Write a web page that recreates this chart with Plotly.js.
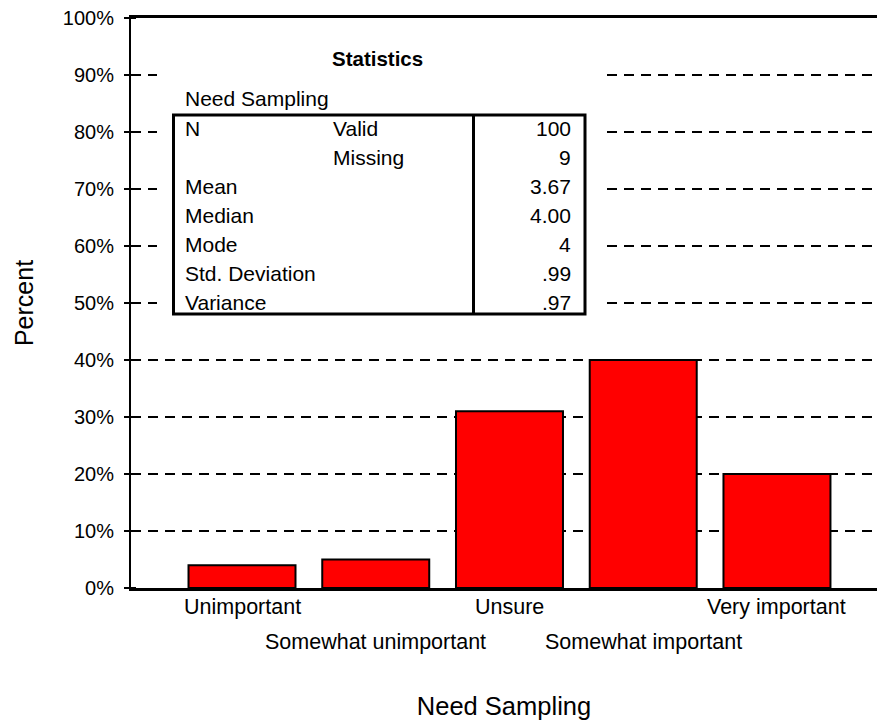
<!DOCTYPE html>
<html>
<head>
<meta charset="utf-8">
<script src="https://cdn.plot.ly/plotly-3.0.1.min.js"></script>
<style>
  html, body { margin: 0; padding: 0; background: #fff; }
  #chart { width: 877px; height: 727px; }
</style>
</head>
<body>
<div id="chart"></div>
<script>
// ---------------- data ----------------
const categories = ["Unimportant", "Somewhat unimportant", "Unsure", "Somewhat important", "Very important"];
const percents = [4, 5, 31, 40, 20];
const yTickVals = [0, 10, 20, 30, 40, 50, 60, 70, 80, 90, 100];
const yTickText = ["0%", "10%", "20%", "30%", "40%", "50%", "60%", "70%", "80%", "90%", "100%"];
const xTitle = "Need Sampling";
const yTitle = "Percent";
const statTitle = "Statistics";
const statVariable = "Need Sampling";
const statRowLabels = ["N", "", "Mean", "Median", "Mode", "Std. Deviation", "Variance"];
const statSubLabels = ["Valid", "Missing", "", "", "", "", ""];
const statValues = ["100", "9", "3.67", "4.00", "4", ".99", ".97"];

// ---------------- layout helpers (pixel -> paper) ----------------
const W = 877, H = 727;
const M = { l: 131, r: 0, t: 18, b: 139 };
const PW = W - M.l - M.r, PH = H - M.t - M.b;
const px = x => (x - M.l) / PW;
const py = y => (H - M.b - y) / PH;

const FONT = '"Liberation Sans", Arial, sans-serif';

const annotations = [];
// x category labels, staggered in two rows
categories.forEach((c, i) => {
  annotations.push({
    x: i, xref: 'x', y: 0, yref: 'paper',
    yanchor: 'middle', xanchor: 'center',
    yshift: i % 2 === 0 ? -19 : -54,
    text: c, showarrow: false,
    font: { family: FONT, size: 21.5, color: '#000' }
  });
});

// statistics table text
annotations.push({
  x: px(377), y: py(58), xref: 'paper', yref: 'paper',
  xanchor: 'center', yanchor: 'middle', showarrow: false,
  text: '<b>' + statTitle + '</b>',
  font: { family: FONT, size: 20.5, color: '#000' }
});
annotations.push({
  x: px(183), y: py(98), xref: 'paper', yref: 'paper',
  xanchor: 'left', yanchor: 'middle', showarrow: false,
  text: statVariable,
  font: { family: FONT, size: 21, color: '#000' }
});
const rowY = i => 128.3 + i * 29.05;
statRowLabels.forEach((t, i) => {
  if (t) annotations.push({
    x: px(183), y: py(rowY(i)), xref: 'paper', yref: 'paper',
    xanchor: 'left', yanchor: 'middle', showarrow: false,
    text: t, font: { family: FONT, size: 21, color: '#000' }
  });
});
statSubLabels.forEach((t, i) => {
  if (t) annotations.push({
    x: px(331), y: py(rowY(i)), xref: 'paper', yref: 'paper',
    xanchor: 'left', yanchor: 'middle', showarrow: false,
    text: t, font: { family: FONT, size: 21, color: '#000' }
  });
});
statValues.forEach((t, i) => {
  annotations.push({
    x: px(573), y: py(rowY(i)), xref: 'paper', yref: 'paper',
    xanchor: 'right', yanchor: 'middle', showarrow: false,
    text: t, font: { family: FONT, size: 21, color: '#000' }
  });
});

const shapes = [
  // white backing that hides gridlines behind the table
  { type: 'rect', xref: 'paper', yref: 'paper', layer: 'above',
    x0: px(157), x1: px(600), y0: py(318), y1: py(32),
    fillcolor: '#fff', line: { width: 0 } },
  // table frame
  { type: 'rect', xref: 'paper', yref: 'paper', layer: 'above',
    x0: px(173.5), x1: px(585), y0: py(314), y1: py(115),
    fillcolor: 'rgba(0,0,0,0)', line: { color: '#000', width: 3 } },
  // column divider
  { type: 'line', xref: 'paper', yref: 'paper', layer: 'above',
    x0: px(473.5), x1: px(473.5), y0: py(314), y1: py(115),
    line: { color: '#000', width: 3 } }
];

const trace = {
  type: 'bar',
  x: categories.map((c, i) => i),
  y: percents,
  width: 0.8,
  marker: { color: '#ff0000', line: { color: '#000', width: 2 } },
  hoverinfo: 'skip'
};

const layout = {
  width: W, height: H,
  margin: M,
  paper_bgcolor: '#fff', plot_bgcolor: '#fff',
  showlegend: false,
  font: { family: FONT, color: '#000' },
  xaxis: {
    type: 'linear',
    range: [-0.83, 4.748],
    showgrid: false, zeroline: false,
    showticklabels: false, ticks: '',
    showline: true, linecolor: '#000', linewidth: 3, mirror: true,
    title: { text: xTitle, font: { family: FONT, size: 25.5, color: '#000' }, standoff: 108 },
    automargin: false
  },
  yaxis: {
    range: [0, 100],
    tickmode: 'array', tickvals: yTickVals, ticktext: yTickText,
    tickfont: { family: FONT, size: 20, color: '#000' },
    ticks: 'outside', ticklen: 5, tickwidth: 2, tickcolor: '#000',
    ticklabelstandoff: 6,
    minor: { tickmode: 'array', tickvals: yTickVals, ticks: 'inside', ticklen: 5, tickwidth: 2, tickcolor: '#000', showgrid: false },
    showgrid: true, gridcolor: '#000', gridwidth: 2, griddash: '10px,7px',
    zeroline: false,
    showline: true, linecolor: '#000', linewidth: 2,
    title: { text: yTitle, font: { family: FONT, size: 25, color: '#000' }, standoff: 22 },
    automargin: false
  },
  shapes: shapes,
  annotations: annotations
};

Plotly.newPlot('chart', [trace], layout, { displayModeBar: false, staticPlot: true });
</script>
</body>
</html>
